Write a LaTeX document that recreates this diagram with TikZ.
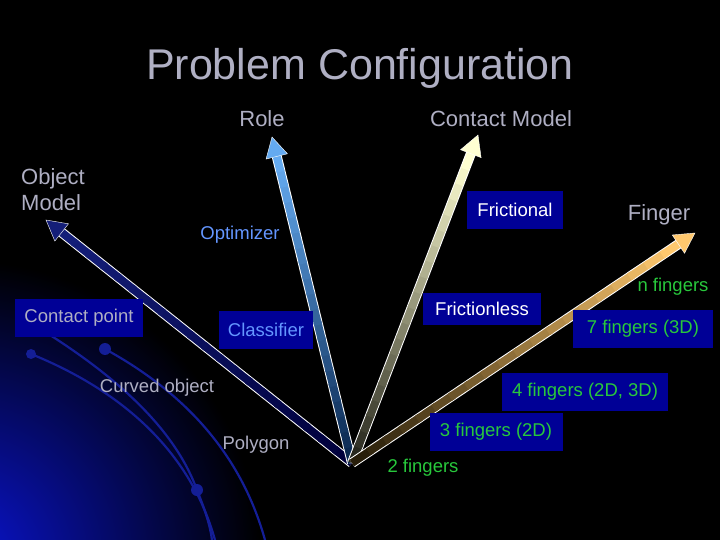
\documentclass[tikz,border=0pt]{standalone}
\usepackage{fontspec}
\setmainfont{Liberation Sans}
\usetikzlibrary{arrows.meta,calc}
\definecolor{boxblue}{RGB}{0,0,150}
\definecolor{txtgray}{RGB}{175,175,195}
\definecolor{fgreen}{RGB}{40,200,60}
\definecolor{lblue}{RGB}{100,150,255}
\definecolor{arcblue}{RGB}{20,30,150}
\definecolor{navyA}{RGB}{0,0,60}
\definecolor{navyB}{RGB}{20,30,120}
\definecolor{roleA}{RGB}{10,40,80}
\definecolor{roleB}{RGB}{100,170,240}
\definecolor{conA}{RGB}{40,40,30}
\definecolor{conB}{RGB}{255,255,210}
\definecolor{finA}{RGB}{40,30,10}
\definecolor{finB}{RGB}{255,200,110}
\tikzset{
  bx/.style={fill=boxblue,inner sep=0pt,minimum height=38pt,font=\fontsize{18.5}{20}\selectfont},
  lbl/.style={font=\fontsize{22}{26}\selectfont,text=txtgray,align=left,inner sep=0pt},
  plain/.style={font=\fontsize{18.5}{20}\selectfont,inner sep=1pt},
}
\newcommand{\gradarrow}[4]{%
  \coordinate (hb) at ($(#1)!20pt!(O)$);
  \draw[white,line width=10pt] (O) -- (hb);
  \foreach \i in {0,...,19}{
    \pgfmathsetmacro{\a}{\i/20}\pgfmathsetmacro{\b}{(\i+1)/20+0.01}\pgfmathsetmacro{\p}{100*\i/19}
    \draw[#3!\p!#2,line width=8pt] ($(O)!\a!(hb)$) -- ($(O)!\b!(hb)$);}
  \fill[#3,draw=white] (#1) -- ($(hb)!11pt!90:(O)$) -- ($(hb)!11pt!-90:(O)$) -- cycle;
}
\begin{document}
\begin{tikzpicture}[x=1pt,y=-1pt]
\fill[black] (0,0) rectangle (720,540);
\useasboundingbox (0,0) rectangle (720,540);
\begin{scope}
\clip (0,0) rectangle (720,540);
\fill[inner color={rgb,255:red,10;green,20;blue,210},outer color=black] (-40,560) circle (300);
\end{scope}
\draw[arcblue,line width=2.2pt] (31,354) .. controls (120,390) and (190,450) .. (215,540);
\draw[arcblue,line width=2.2pt] (50,335) .. controls (120,380) and (175,430) .. (197,490) .. controls (205,510) and (210,525) .. (212,540);
\draw[arcblue,line width=2.2pt] (105,349) .. controls (180,390) and (240,450) .. (265,540);
\fill[arcblue] (31,354) circle (5) (105,349) circle (6) (197,490) circle (6);
\node[font=\fontsize{43}{50}\selectfont,text=txtgray] (title) at (360,68) {Problem Configuration};
\coordinate (O) at (352,463);
\coordinate (tObj) at (46,220);
\coordinate (tRole) at (272,137);
\coordinate (tCon) at (478,135);
\coordinate (tFin) at (695,233);
\gradarrow{tObj}{navyA}{navyB}{}
\gradarrow{tRole}{roleA}{roleB}{}
\gradarrow{tCon}{conA}{conB}{}
\gradarrow{tFin}{finA}{finB}{}
% axis labels
\node[lbl] (role) at (262,119) {Role};
\node[lbl] (cm) at (501,119) {Contact Model};
\node[lbl,anchor=west] (om) at (21,190) {Object\\Model};
\node[lbl] (fin) at (659,215) {Finger};
% boxes
\node[bx,text=white,minimum width=96pt] (fr) at (515,210) {Frictional};
\node[bx,text=white,minimum width=118pt,minimum height=32pt] (frl) at (482,309) {Frictionless};
\node[bx,text=fgreen,minimum width=140pt] (f7) at (643,329) {7 fingers (3D)};
\node[bx,text=fgreen,minimum width=166pt] (f4) at (585,392) {4 fingers (2D, 3D)};
\node[bx,text=fgreen,minimum width=133pt] (f3) at (496,432) {3 fingers (2D)};
\node[bx,text=txtgray,minimum width=128pt] (cp) at (79,318) {Contact point};
\node[bx,text=lblue,minimum width=94pt] (cl) at (266,330) {Classifier};
\node[plain,text=lblue] (opt) at (240,235) {Optimizer};
\node[plain,text=fgreen] (nf) at (673,287) {n fingers};
\node[plain,text=fgreen] (f2) at (423,468) {2 fingers};
\node[plain,text=txtgray] (co) at (157,388) {Curved object};
\node[plain,text=txtgray] (pg) at (256,445) {Polygon};
\end{tikzpicture}
\end{document}
